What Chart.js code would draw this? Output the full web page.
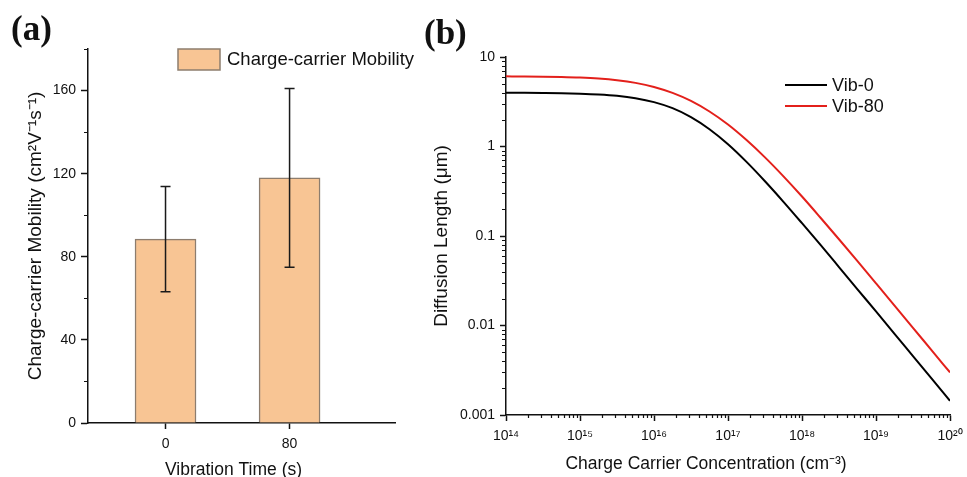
<!DOCTYPE html>
<html>
<head>
<meta charset="utf-8">
<script src="https://cdn.jsdelivr.net/npm/chart.js@4.4.1/dist/chart.umd.min.js"></script>
<style>
html, body { margin:0; padding:0; background:#fff; overflow:hidden; }
#pagina { position:relative; width:967px; height:477px; overflow:hidden; }
.panel { position:absolute; top:0; }
.etiqueta { position:absolute; font:bold 35px "Liberation Serif", "Times New Roman", serif; color:#111; }
</style>
</head>
<body>
<div id="pagina">
  <div class="panel" style="left:0"><canvas id="graficaMovilidad" width="420" height="490"></canvas></div>
  <div class="panel" style="left:430px"><canvas id="graficaDifusion" width="537" height="490"></canvas></div>
  <div class="etiqueta" style="left:11px;top:9px">(a)</div>
  <div class="etiqueta" style="left:424px;top:13px">(b)</div>
</div>
<script>
// (a) movilidad
const tiemposVibracion = [0, 80];
const movilidad = [88.5, 118];
const errorMovilidad = [25.3, 43];
const ticksMovilidad = [0, 40, 80, 120, 160];
const menoresMovilidad = [20, 60, 100, 140, 180];

// (b) longitud de difusion
const concentracion = [1e14, 1.78e14, 3.16e14, 5.62e14, 1e15, 1.78e15, 3.16e15, 5.62e15, 1e16,
  1.78e16, 3.16e16, 5.62e16, 1e17, 1.78e17, 3.16e17, 5.62e17, 1e18, 1.78e18, 3.16e18, 5.62e18,
  1e19, 1.78e19, 3.16e19, 5.62e19, 1e20];
const vib0 = [3.99, 3.98, 3.965, 3.94, 3.89, 3.81, 3.68, 3.46, 3.13, 2.68, 2.13, 1.56, 1.06,
  0.673, 0.409, 0.241, 0.139, 0.0794, 0.045, 0.0254, 0.01435, 0.00808, 0.00455, 0.00256, 0.00144];
const vib80 = [6.08, 6.06, 6.03, 5.98, 5.89, 5.74, 5.50, 5.14, 4.63, 3.97, 3.23, 2.46, 1.76,
  1.18, 0.756, 0.464, 0.276, 0.160, 0.092, 0.0524, 0.0296, 0.0167, 0.00943, 0.00531, 0.00299];
const ticksConcentracion = [1e14, 1e15, 1e16, 1e17, 1e18, 1e19, 1e20];
const etiquetasConcentracion = ["10¹⁴", "10¹⁵", "10¹⁶", "10¹⁷", "10¹⁸", "10¹⁹", "10²⁰"];
const ticksDifusion = [0.001, 0.01, 0.1, 1, 10];
const etiquetasDifusion = ["0.001", "0.01", "0.1", "1", "10"];

Chart.defaults.font.family = '"Liberation Sans", Arial, sans-serif';
Chart.defaults.color = "#111";

const tinta = "#111";
const fuente = '"Liberation Sans", Arial, sans-serif';

// ticks menores de los ejes
const ticksMenores = {
  id: "ticksMenores",
  afterDraw(chart, args, opts) {
    const ctx = chart.ctx;
    ctx.save();
    ctx.strokeStyle = tinta;
    ctx.lineWidth = 1.2;
    opts.ejes.forEach(e => {
      const s = chart.scales[e.id];
      ctx.beginPath();
      e.valores.forEach(v => {
        const p = Math.round(s.getPixelForValue(v)) + 0.5;
        if (s.isHorizontal()) {
          ctx.moveTo(p, s.top);
          ctx.lineTo(p, s.top + e.largo);
        } else {
          ctx.moveTo(s.right, p);
          ctx.lineTo(s.right - e.largo, p);
        }
      });
      ctx.stroke();
    });
    ctx.restore();
  }
};

// titulo del eje x (en el original va algo corrido a la izquierda)
const tituloX = {
  id: "tituloX",
  afterDraw(chart, args, opts) {
    const ctx = chart.ctx;
    ctx.save();
    ctx.fillStyle = tinta;
    ctx.font = "17.5px " + fuente;
    ctx.textAlign = "center";
    ctx.textBaseline = "middle";
    ctx.fillText(opts.texto, opts.x, opts.y);
    ctx.restore();
  }
};

const barrasError = {
  id: "barrasError",
  afterDatasetsDraw(chart) {
    const ctx = chart.ctx;
    const y = chart.scales.y;
    ctx.save();
    ctx.strokeStyle = "#1a1a1a";
    ctx.lineWidth = 1.5;
    chart.getDatasetMeta(0).data.forEach((bar, i) => {
      const arriba = y.getPixelForValue(movilidad[i] + errorMovilidad[i]);
      const abajo = y.getPixelForValue(movilidad[i] - errorMovilidad[i]);
      ctx.beginPath();
      ctx.moveTo(bar.x, arriba); ctx.lineTo(bar.x, abajo);
      ctx.moveTo(bar.x - 5, arriba); ctx.lineTo(bar.x + 5, arriba);
      ctx.moveTo(bar.x - 5, abajo); ctx.lineTo(bar.x + 5, abajo);
      ctx.stroke();
    });
    ctx.restore();
  }
};

const leyendaCaja = {
  id: "leyendaCaja",
  afterDraw(chart) {
    const ctx = chart.ctx;
    const ds = chart.data.datasets[0];
    ctx.save();
    ctx.fillStyle = ds.backgroundColor;
    ctx.strokeStyle = ds.borderColor;
    ctx.lineWidth = 1.5;
    ctx.fillRect(178, 49, 42, 21);
    ctx.strokeRect(178, 49, 42, 21);
    ctx.fillStyle = tinta;
    ctx.font = "18.5px " + fuente;
    ctx.textBaseline = "middle";
    ctx.fillText(ds.label, 227, 60);
    ctx.restore();
  }
};

const leyendaLineas = {
  id: "leyendaLineas",
  afterDraw(chart) {
    const ctx = chart.ctx;
    ctx.save();
    ctx.font = "18px " + fuente;
    ctx.textBaseline = "middle";
    chart.data.datasets.forEach((ds, i) => {
      const y = 85 + i * 21;
      ctx.strokeStyle = ds.borderColor;
      ctx.lineWidth = 2;
      ctx.beginPath();
      ctx.moveTo(355, y); ctx.lineTo(397, y);
      ctx.stroke();
      ctx.fillStyle = tinta;
      ctx.fillText(ds.label, 402, y + 1);
    });
    ctx.restore();
  }
};

new Chart(document.getElementById("graficaMovilidad"), {
  type: "bar",
  data: {
    datasets: [{
      label: "Charge-carrier Mobility",
      data: tiemposVibracion.map((t, i) => ({ x: t, y: movilidad[i] })),
      backgroundColor: "#f8c594",
      borderColor: "#8d7d6e",
      borderWidth: 1.5,
      barThickness: 61
    }]
  },
  options: {
    responsive: false,
    animation: false,
    events: [],
    layout: { padding: { left: 0, top: 49, right: 25, bottom: 0 } },
    plugins: {
      legend: { display: false },
      tooltip: { enabled: false },
      ticksMenores: { ejes: [{ id: "y", valores: menoresMovilidad, largo: 4 }] },
      tituloX: { texto: "Vibration Time (s)", x: 233.5, y: 470 }
    },
    scales: {
      x: {
        type: "linear",
        min: -50,
        max: 148,
        offset: false,
        afterBuildTicks: s => { s.ticks = tiemposVibracion.map(v => ({ value: v })); },
        afterFit: s => { s.height = 67; s.paddingLeft = 0; s.paddingRight = 0; },
        grid: { offset: false, drawOnChartArea: false, tickLength: 6, tickWidth: 1.5, tickColor: tinta },
        border: { color: tinta, width: 1.5 },
        ticks: { font: { size: 14 }, padding: 7, maxRotation: 0 }
      },
      y: {
        min: 0,
        max: 180,
        afterBuildTicks: s => { s.ticks = ticksMovilidad.map(v => ({ value: v })); },
        afterFit: s => { s.width = 88; },
        grid: { drawOnChartArea: false, tickLength: 7, tickWidth: 1.5, tickColor: tinta },
        border: { color: tinta, width: 1.5 },
        ticks: { font: { size: 14 }, padding: 5 },
        title: { display: true, text: "Charge-carrier Mobility (cm²V⁻¹s⁻¹)", font: { size: 19 }, padding: { top: 24, bottom: 0 } }
      }
    }
  },
  plugins: [barrasError, leyendaCaja, ticksMenores, tituloX]
});

const menoresX = [];
const menoresY = [];
for (let d = 14; d < 20; d++) for (let k = 2; k < 10; k++) menoresX.push(k * Math.pow(10, d));
for (let d = -3; d < 1; d++) for (let k = 2; k < 10; k++) menoresY.push(k * Math.pow(10, d));

new Chart(document.getElementById("graficaDifusion"), {
  type: "line",
  data: {
    datasets: [{
      label: "Vib-0",
      data: concentracion.map((n, i) => ({ x: n, y: vib0[i] })),
      borderColor: "#000000",
      borderWidth: 2,
      pointRadius: 0,
      cubicInterpolationMode: "monotone"
    }, {
      label: "Vib-80",
      data: concentracion.map((n, i) => ({ x: n, y: vib80[i] })),
      borderColor: "#e3201b",
      borderWidth: 2,
      pointRadius: 0,
      cubicInterpolationMode: "monotone"
    }]
  },
  options: {
    responsive: false,
    animation: false,
    events: [],
    layout: { padding: { left: 0, top: 57, right: 17, bottom: 0 } },
    plugins: {
      legend: { display: false },
      tooltip: { enabled: false },
      ticksMenores: { ejes: [
        { id: "x", valores: menoresX, largo: 3 },
        { id: "y", valores: menoresY, largo: 4 }
      ] },
      tituloX: { texto: "Charge Carrier Concentration (cm⁻³)", x: 276, y: 464 }
    },
    scales: {
      x: {
        type: "logarithmic",
        min: 1e14,
        max: 1e20,
        afterBuildTicks: s => { s.ticks = ticksConcentracion.map(v => ({ value: v })); },
        afterFit: s => { s.height = 75; s.paddingLeft = 0; s.paddingRight = 0; },
        grid: { drawOnChartArea: false, tickLength: 6, tickWidth: 1.5, tickColor: tinta },
        border: { color: tinta, width: 1.5 },
        ticks: { font: { size: 14 }, padding: 7, maxRotation: 0, autoSkip: false,
          callback: (v, i) => etiquetasConcentracion[i] }
      },
      y: {
        type: "logarithmic",
        min: 0.001,
        max: 10,
        afterBuildTicks: s => { s.ticks = ticksDifusion.map(v => ({ value: v })); },
        afterFit: s => { s.width = 76; },
        grid: { drawOnChartArea: false, tickLength: 6, tickWidth: 1.5, tickColor: tinta },
        border: { color: tinta, width: 1.5 },
        ticks: { font: { size: 14 }, padding: 5, autoSkip: false,
          callback: (v, i) => etiquetasDifusion[i] },
        title: { display: true, text: "Diffusion Length (μm)", font: { size: 19 }, padding: { top: 0, bottom: 0 } }
      }
    }
  },
  plugins: [leyendaLineas, ticksMenores, tituloX]
});
</script>
</body>
</html>
